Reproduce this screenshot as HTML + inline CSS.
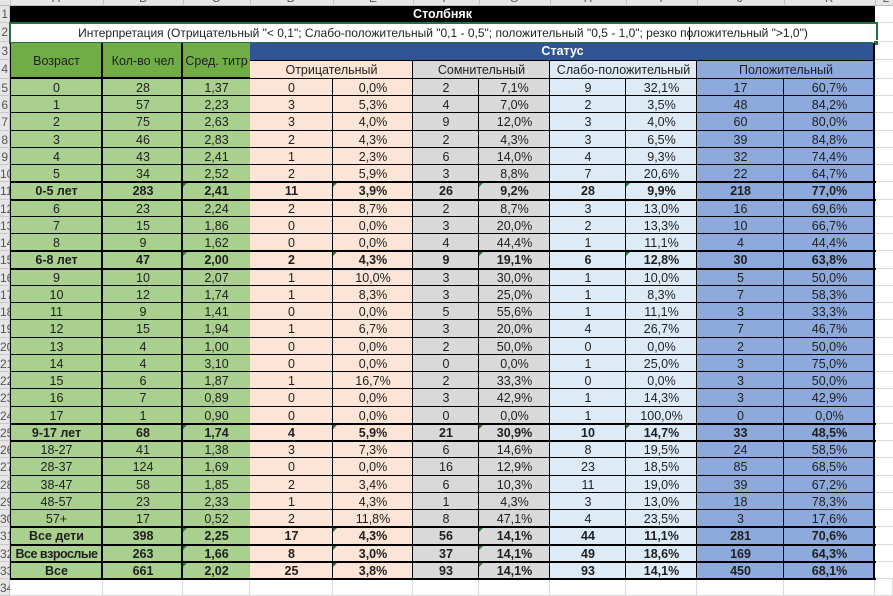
<!DOCTYPE html>
<html><head><meta charset="utf-8">
<style>
*{margin:0;padding:0;box-sizing:border-box}
body{width:893px;height:593px;overflow:hidden;background:#fff;position:relative;font-family:"Liberation Sans",Arial,sans-serif;font-size:12.5px;color:#1f1f1f}
.abs{position:absolute}
.colhdr{position:absolute;left:0;top:0;width:893px;height:6px;background:#e6e6e6;box-shadow:inset 0 -1px 0 #bdbdbd;overflow:hidden}
.colhdr span{position:absolute;top:-8px;width:20px;margin-left:-10px;text-align:center;font-size:12px;color:#555;line-height:12px}
.colhdr i{position:absolute;top:0;width:1px;height:6px;background:#c4c4c4}
.rh{position:absolute;left:0;width:10px;background:#e6e6e6;box-shadow:inset -1px -1px 0 #c8c8c8;color:#555;text-align:right;font-size:12px;padding-right:2px;overflow:hidden;white-space:nowrap}
.r{position:absolute;left:0;display:flex;width:893px}
.r>div{flex:none;height:100%;text-align:center;white-space:nowrap;overflow:hidden;position:relative}
.r>div:nth-child(1){width:10px;background:#e6e6e6;box-shadow:inset -1px -1px 0 #c8c8c8;color:#555;text-align:right;font-size:12px;padding-right:2px;font-weight:normal}
.d>div:nth-child(2){width:93px;background:#a9d08e;box-shadow:inset -2px -1px 0 #000,inset 1px 0 0 #000}
.d>div:nth-child(3){width:80px;background:#a9d08e;box-shadow:inset -2px -1px 0 #000}
.d>div:nth-child(4){width:67px;background:#a9d08e;box-shadow:inset 0 -1px 0 #000}
.d>div:nth-child(5){width:83px;background:#fce4d6;box-shadow:inset -1px -1px 0 #000}
.d>div:nth-child(6){width:80px;background:#fce4d6;box-shadow:inset -1px -1px 0 #000}
.d>div:nth-child(7){width:66px;background:#d9d9d9;box-shadow:inset -1px -1px 0 #000}
.d>div:nth-child(8){width:71px;background:#d9d9d9;box-shadow:inset -1px -1px 0 #000}
.d>div:nth-child(9){width:76px;background:#ddebf7;box-shadow:inset -1px -1px 0 #000}
.d>div:nth-child(10){width:71px;background:#ddebf7;box-shadow:inset -1px -1px 0 #000}
.d>div:nth-child(11){width:87px;background:#8ea9db;box-shadow:inset -1px -1px 0 #000}
.d>div:nth-child(12){width:91px;background:#8ea9db;box-shadow:inset -2px -1px 0 #000}
.d>div:nth-child(13){width:18px;background:#fff;box-shadow:inset 0 -1px 0 #dadada}
.e>div{background:#fff;box-shadow:inset -1px -1px 0 #dadada}
.e>div:nth-child(2){width:93px}.e>div:nth-child(3){width:80px}.e>div:nth-child(4){width:67px}
.e>div:nth-child(5){width:83px}.e>div:nth-child(6){width:80px}.e>div:nth-child(7){width:66px}
.e>div:nth-child(8){width:71px}.e>div:nth-child(9){width:76px}.e>div:nth-child(10){width:71px}
.e>div:nth-child(11){width:87px}.e>div:nth-child(12){width:91px}.e>div:nth-child(13){width:18px}
.b{font-weight:bold}
.b::before{content:"";position:absolute;left:10px;width:866px;top:-1px;height:2px;background:#000;z-index:3}
.b::after{content:"";position:absolute;left:10px;width:866px;bottom:-1px;height:2px;background:#000;z-index:3}
.t::before{content:"";position:absolute;left:0;top:0;width:0;height:0;border-top:5px solid #1f7a3a;border-right:5px solid transparent}
.hdr{position:absolute;text-align:center;white-space:nowrap;overflow:hidden}
.n{letter-spacing:-0.5px}
</style></head><body>

<div class="colhdr">
<i style="left:10px"></i><i style="left:103px"></i><i style="left:183px"></i><i style="left:250px"></i><i style="left:333px"></i><i style="left:413px"></i><i style="left:479px"></i><i style="left:550px"></i><i style="left:626px"></i><i style="left:697px"></i><i style="left:784px"></i><i style="left:875px"></i>
<span style="left:56px">A</span><span style="left:143px">B</span><span style="left:216px">C</span><span style="left:291px">D</span><span style="left:373px">E</span><span style="left:446px">F</span><span style="left:514px">G</span><span style="left:588px">H</span><span style="left:661px">I</span><span style="left:740px">J</span><span style="left:829px">K</span><span style="left:886px">L</span>
</div>

<div class="rh" style="top:6px;height:17px;line-height:17px">1</div>
<div class="rh" style="top:23px;height:19px;line-height:19px">2</div>
<div class="rh" style="top:42px;height:18px;line-height:18px">3</div>
<div class="rh" style="top:60px;height:19px;line-height:19px">4</div>

<div class="abs" style="left:875px;top:6px;width:18px;height:17px;box-shadow:inset 0 -1px 0 #dadada"></div>
<div class="abs" style="left:875px;top:23px;width:18px;height:19px;box-shadow:inset 0 -1px 0 #dadada"></div>
<div class="abs" style="left:875px;top:42px;width:18px;height:18px;box-shadow:inset 0 -1px 0 #dadada"></div>
<div class="abs" style="left:875px;top:60px;width:18px;height:19px;box-shadow:inset 0 -1px 0 #dadada"></div>

<div class="hdr" style="left:10px;top:6px;width:865px;height:17px;line-height:17px;background:#000;color:#fff;font-weight:bold">Столбняк</div>

<div class="hdr" style="left:10px;top:23px;width:866px;height:20px;line-height:20px;background:#fff;font-size:12px;color:#1f1f1f">Интерпретация (Отрицательный "&lt; 0,1"; Слабо-положительный "0,1 - 0,5"; положительный "0,5 - 1,0"; резко положительный "&gt;1,0")</div>
<div class="abs" style="left:689px;top:27px;width:1px;height:13px;background:#000"></div>
<div class="abs" style="left:9px;top:22px;width:869px;height:22px;border:2px solid #217346"></div>
<div class="abs" style="left:873px;top:40px;width:6px;height:6px;background:#217346;border:1px solid #fff"></div>

<div class="hdr" style="left:10px;top:43px;width:93px;height:36px;line-height:36px;background:#70ad47;box-shadow:inset -2px -2px 0 #000,inset 1px 0 0 #000">Возраст</div>
<div class="hdr" style="left:103px;top:43px;width:80px;height:36px;line-height:36px;background:#70ad47;box-shadow:inset -2px -2px 0 #000">Кол-во чел</div>
<div class="hdr" style="left:183px;top:43px;width:67px;height:36px;line-height:36px;background:#70ad47;box-shadow:inset 0 -2px 0 #000">Сред. титр</div>
<div class="hdr" style="left:250px;top:43px;width:625px;height:18px;line-height:17px;background:#2f5597;color:#fff;font-weight:bold;box-shadow:inset -2px -1px 0 #000">Статус</div>
<div class="hdr" style="left:250px;top:61px;width:163px;height:18px;line-height:18px;background:#fce4d6;box-shadow:inset -1px -1px 0 #000">Отрицательный</div>
<div class="hdr" style="left:413px;top:61px;width:137px;height:18px;line-height:18px;background:#d9d9d9;box-shadow:inset -1px -1px 0 #000">Сомнительный</div>
<div class="hdr" style="left:550px;top:61px;width:147px;height:18px;line-height:18px;background:#ddebf7;box-shadow:inset -1px -1px 0 #000">Слабо-положительный</div>
<div class="hdr" style="left:697px;top:61px;width:178px;height:18px;line-height:18px;background:#8ea9db;box-shadow:inset -2px -1px 0 #000">Положительный</div>

<div class="r d" style="top:79px;height:17px;line-height:18px"><div>5</div><div>0</div><div>28</div><div>1,37</div><div>0</div><div>0,0%</div><div>2</div><div>7,1%</div><div>9</div><div>32,1%</div><div>17</div><div>60,7%</div><div></div></div>
<div class="r d" style="top:96px;height:17px;line-height:18px"><div>6</div><div>1</div><div>57</div><div>2,23</div><div>3</div><div>5,3%</div><div>4</div><div>7,0%</div><div>2</div><div>3,5%</div><div>48</div><div>84,2%</div><div></div></div>
<div class="r d" style="top:113px;height:18px;line-height:19px"><div>7</div><div>2</div><div>75</div><div>2,63</div><div>3</div><div>4,0%</div><div>9</div><div>12,0%</div><div>3</div><div>4,0%</div><div>60</div><div>80,0%</div><div></div></div>
<div class="r d" style="top:131px;height:17px;line-height:18px"><div>8</div><div>3</div><div>46</div><div>2,83</div><div>2</div><div>4,3%</div><div>2</div><div>4,3%</div><div>3</div><div>6,5%</div><div>39</div><div>84,8%</div><div></div></div>
<div class="r d" style="top:148px;height:17px;line-height:18px"><div>9</div><div>4</div><div>43</div><div>2,41</div><div>1</div><div>2,3%</div><div>6</div><div>14,0%</div><div>4</div><div>9,3%</div><div>32</div><div>74,4%</div><div></div></div>
<div class="r d" style="top:165px;height:17px;line-height:18px"><div>10</div><div>5</div><div>34</div><div>2,52</div><div>2</div><div>5,9%</div><div>3</div><div>8,8%</div><div>7</div><div>20,6%</div><div>22</div><div>64,7%</div><div></div></div>
<div class="r d b" style="top:182px;height:18px;line-height:19px"><div>11</div><div>0-5 лет</div><div>283</div><div class="t">2,41</div><div>11</div><div class="t">3,9%</div><div>26</div><div class="t">9,2%</div><div>28</div><div class="t">9,9%</div><div>218</div><div>77,0%</div><div></div></div>
<div class="r d" style="top:200px;height:17px;line-height:18px"><div>12</div><div>6</div><div>23</div><div>2,24</div><div>2</div><div>8,7%</div><div>2</div><div>8,7%</div><div>3</div><div>13,0%</div><div>16</div><div>69,6%</div><div></div></div>
<div class="r d" style="top:217px;height:17px;line-height:18px"><div>13</div><div>7</div><div>15</div><div>1,86</div><div>0</div><div>0,0%</div><div>3</div><div>20,0%</div><div>2</div><div>13,3%</div><div>10</div><div>66,7%</div><div></div></div>
<div class="r d" style="top:234px;height:17px;line-height:18px"><div>14</div><div>8</div><div>9</div><div>1,62</div><div>0</div><div>0,0%</div><div>4</div><div>44,4%</div><div>1</div><div>11,1%</div><div>4</div><div>44,4%</div><div></div></div>
<div class="r d b" style="top:251px;height:18px;line-height:19px"><div>15</div><div>6-8 лет</div><div>47</div><div class="t">2,00</div><div>2</div><div class="t">4,3%</div><div>9</div><div class="t">19,1%</div><div>6</div><div class="t">12,8%</div><div>30</div><div>63,8%</div><div></div></div>
<div class="r d" style="top:269px;height:17px;line-height:18px"><div>16</div><div>9</div><div>10</div><div>2,07</div><div>1</div><div>10,0%</div><div>3</div><div>30,0%</div><div>1</div><div>10,0%</div><div>5</div><div>50,0%</div><div></div></div>
<div class="r d" style="top:286px;height:17px;line-height:18px"><div>17</div><div>10</div><div>12</div><div>1,74</div><div>1</div><div>8,3%</div><div>3</div><div>25,0%</div><div>1</div><div>8,3%</div><div>7</div><div>58,3%</div><div></div></div>
<div class="r d" style="top:303px;height:17px;line-height:18px"><div>18</div><div>11</div><div>9</div><div>1,41</div><div>0</div><div>0,0%</div><div>5</div><div>55,6%</div><div>1</div><div>11,1%</div><div>3</div><div>33,3%</div><div></div></div>
<div class="r d" style="top:320px;height:18px;line-height:19px"><div>19</div><div>12</div><div>15</div><div>1,94</div><div>1</div><div>6,7%</div><div>3</div><div>20,0%</div><div>4</div><div>26,7%</div><div>7</div><div>46,7%</div><div></div></div>
<div class="r d" style="top:338px;height:17px;line-height:18px"><div>20</div><div>13</div><div>4</div><div>1,00</div><div>0</div><div>0,0%</div><div>2</div><div>50,0%</div><div>0</div><div>0,0%</div><div>2</div><div>50,0%</div><div></div></div>
<div class="r d" style="top:355px;height:17px;line-height:18px"><div>21</div><div>14</div><div>4</div><div>3,10</div><div>0</div><div>0,0%</div><div>0</div><div>0,0%</div><div>1</div><div>25,0%</div><div>3</div><div>75,0%</div><div></div></div>
<div class="r d" style="top:372px;height:17px;line-height:18px"><div>22</div><div>15</div><div>6</div><div>1,87</div><div>1</div><div>16,7%</div><div>2</div><div>33,3%</div><div>0</div><div>0,0%</div><div>3</div><div>50,0%</div><div></div></div>
<div class="r d" style="top:389px;height:18px;line-height:19px"><div>23</div><div>16</div><div>7</div><div>0,89</div><div>0</div><div>0,0%</div><div>3</div><div>42,9%</div><div>1</div><div>14,3%</div><div>3</div><div>42,9%</div><div></div></div>
<div class="r d" style="top:407px;height:17px;line-height:18px"><div>24</div><div>17</div><div>1</div><div>0,90</div><div>0</div><div>0,0%</div><div>0</div><div>0,0%</div><div>1</div><div>100,0%</div><div>0</div><div>0,0%</div><div></div></div>
<div class="r d b" style="top:424px;height:17px;line-height:18px"><div>25</div><div>9-17 лет</div><div>68</div><div class="t">1,74</div><div>4</div><div class="t">5,9%</div><div>21</div><div class="t">30,9%</div><div>10</div><div class="t">14,7%</div><div>33</div><div>48,5%</div><div></div></div>
<div class="r d" style="top:441px;height:17px;line-height:18px"><div>26</div><div>18-27</div><div>41</div><div>1,38</div><div>3</div><div>7,3%</div><div>6</div><div>14,6%</div><div>8</div><div>19,5%</div><div>24</div><div>58,5%</div><div></div></div>
<div class="r d" style="top:458px;height:18px;line-height:19px"><div>27</div><div>28-37</div><div>124</div><div>1,69</div><div>0</div><div>0,0%</div><div>16</div><div>12,9%</div><div>23</div><div>18,5%</div><div>85</div><div>68,5%</div><div></div></div>
<div class="r d" style="top:476px;height:17px;line-height:18px"><div>28</div><div>38-47</div><div>58</div><div>1,85</div><div>2</div><div>3,4%</div><div>6</div><div>10,3%</div><div>11</div><div>19,0%</div><div>39</div><div>67,2%</div><div></div></div>
<div class="r d" style="top:493px;height:17px;line-height:18px"><div>29</div><div>48-57</div><div>23</div><div>2,33</div><div>1</div><div>4,3%</div><div>1</div><div>4,3%</div><div>3</div><div>13,0%</div><div>18</div><div>78,3%</div><div></div></div>
<div class="r d" style="top:510px;height:17px;line-height:18px"><div>30</div><div>57+</div><div>17</div><div>0,52</div><div>2</div><div>11,8%</div><div>8</div><div>47,1%</div><div>4</div><div>23,5%</div><div>3</div><div>17,6%</div><div></div></div>
<div class="r d b" style="top:527px;height:18px;line-height:19px"><div>31</div><div>Все дети</div><div>398</div><div class="t">2,25</div><div>17</div><div class="t">4,3%</div><div>56</div><div class="t">14,1%</div><div>44</div><div>11,1%</div><div>281</div><div>70,6%</div><div></div></div>
<div class="r d b" style="top:545px;height:17px;line-height:18px"><div>32</div><div class="n">Все взрослые</div><div>263</div><div class="t">1,66</div><div>8</div><div class="t">3,0%</div><div>37</div><div class="t">14,1%</div><div>49</div><div>18,6%</div><div>169</div><div>64,3%</div><div></div></div>
<div class="r d b" style="top:562px;height:17px;line-height:18px"><div>33</div><div>Все</div><div>661</div><div class="t">2,02</div><div>25</div><div class="t">3,8%</div><div>93</div><div class="t">14,1%</div><div>93</div><div>14,1%</div><div>450</div><div>68,1%</div><div></div></div>
<div class="r e" style="top:579px;height:17px;line-height:18px"><div>34</div><div></div><div></div><div></div><div></div><div></div><div></div><div></div><div></div><div></div><div></div><div></div><div></div></div>

</body></html>
